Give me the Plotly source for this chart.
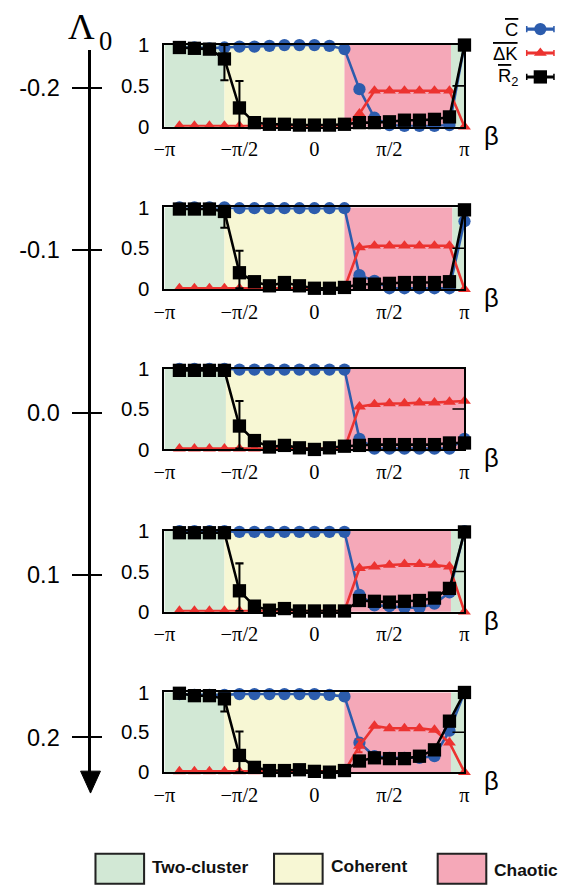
import numpy as np
import plotly.graph_objects as go

# The captured page is shrunk by about 2.2% and the body keeps an 8px margin:
# the figure is laid out in reference pixels through ref -> ref / S - OFF.
S = 0.978
OFF = 8
W, H = 568, 889
K = 1 / S

# ---------------- data ----------------
BETA_FRAC = [-0.9, -0.8, -0.7, -0.6, -0.5, -0.4, -0.3, -0.2, -0.1, 0.0,
             0.1, 0.2, 0.3, 0.4, 0.5, 0.6, 0.7, 0.8, 0.9, 1.0]
LAMBDA0 = [-0.2, -0.1, 0.0, 0.1, 0.2]
LAMBDA0_TEXT = ["-0.2", "-0.1", "0.0", "0.1", "0.2"]

C_BAR = [
    [0.97, 0.97, 0.96, 0.97, 0.98, 0.98, 0.99, 1.0, 1.0, 1.0, 0.99, 0.95, 0.46, 0.11, 0.02, 0.01, 0.01, 0.01, 0.02, 1.0],
    [1.0, 1.0, 1.0, 1.0, 0.99, 0.99, 0.99, 0.99, 0.99, 0.99, 0.99, 0.99, 0.17, 0.10, 0.01, 0.01, 0.01, 0.01, 0.01, 0.83],
    [1.0, 1.0, 1.0, 1.0, 0.99, 0.99, 0.99, 0.99, 0.99, 0.99, 0.99, 0.99, 0.13, 0.01, 0.01, 0.01, 0.01, 0.01, 0.01, 0.13],
    [1.0, 1.0, 1.0, 1.0, 0.99, 0.99, 0.99, 0.99, 0.99, 0.99, 0.99, 0.99, 0.21, 0.08, 0.07, 0.05, 0.05, 0.10, 0.24, 1.0],
    [0.98, 0.97, 0.97, 0.97, 0.98, 0.98, 0.98, 0.98, 0.98, 0.98, 0.97, 0.95, 0.37, 0.20, 0.18, 0.18, 0.18, 0.20, 0.52, 1.0],
]
DK_BAR = [
    [0.01] * 12 + [0.16, 0.44, 0.44, 0.44, 0.44, 0.44, 0.44, 0.0],
    [0.01] * 12 + [0.51, 0.53, 0.53, 0.53, 0.53, 0.53, 0.53, 0.0],
    [0.01] * 12 + [0.53, 0.56, 0.57, 0.57, 0.58, 0.58, 0.59, 0.60],
    [0.01] * 12 + [0.54, 0.56, 0.58, 0.59, 0.59, 0.58, 0.56, 0.0],
    [0.01] * 12 + [0.33, 0.58, 0.55, 0.55, 0.55, 0.53, 0.37, 0.0],
]
DK_ERR = [
    [0] * 20, [0] * 20, [0] * 20, [0] * 20,
    [0] * 12 + [0.08] + [0] * 7,
]
R2_BAR = [
    [0.97, 0.96, 0.95, 0.83, 0.23, 0.05, 0.03, 0.03, 0.02, 0.02, 0.02, 0.03, 0.05, 0.05, 0.06, 0.08, 0.08, 0.09, 0.12, 1.0],
    [0.98, 0.98, 0.98, 0.95, 0.20, 0.09, 0.04, 0.08, 0.04, 0.01, 0.01, 0.02, 0.06, 0.06, 0.07, 0.08, 0.08, 0.08, 0.09, 0.97],
    [0.98, 0.98, 0.98, 0.98, 0.29, 0.11, 0.03, 0.05, 0.02, 0.0, 0.02, 0.04, 0.05, 0.06, 0.06, 0.06, 0.06, 0.06, 0.08, 0.08],
    [0.98, 0.98, 0.98, 0.98, 0.26, 0.07, 0.02, 0.04, 0.01, 0.01, 0.01, 0.01, 0.14, 0.13, 0.12, 0.13, 0.14, 0.17, 0.29, 0.99],
    [0.99, 0.96, 0.96, 0.92, 0.21, 0.06, 0.02, 0.02, 0.03, 0.01, 0.0, 0.02, 0.14, 0.18, 0.17, 0.17, 0.20, 0.28, 0.64, 1.0],
]
R2_ERR_PLUS = [
    [0, 0, 0, 0.17, 0.33] + [0] * 15,
    [0, 0, 0, 0.03, 0.27] + [0] * 15,
    [0, 0, 0, 0.0, 0.31] + [0] * 15,
    [0, 0, 0, 0.0, 0.34] + [0] * 15,
    [0, 0, 0, 0.05, 0.30] + [0] * 15,
]
R2_ERR_MINUS = [
    [0, 0, 0, 0.26, 0.26] + [0] * 15,
    [0, 0, 0, 0.20, 0.19] + [0] * 15,
    [0, 0, 0, 0.0, 0.28] + [0] * 15,
    [0, 0, 0, 0.0, 0.25] + [0] * 15,
    [0, 0, 0, 0.16, 0.21] + [0] * 15,
]
# regime regions in units of pi: (start, end, regime)
REGIONS = [
    [(-1.0, -0.6, "two"), (-0.6, 0.2, "coh"), (0.2, 0.91, "cha"), (0.91, 1.0, "two")],
    [(-1.0, -0.6, "two"), (-0.6, 0.2, "coh"), (0.2, 0.92, "cha"), (0.92, 1.0, "two")],
    [(-1.0, -0.59, "two"), (-0.59, 0.2, "coh"), (0.2, 1.0, "cha")],
    [(-1.0, -0.6, "two"), (-0.6, 0.2, "coh"), (0.2, 0.91, "cha"), (0.91, 1.0, "two")],
    [(-1.0, -0.6, "two"), (-0.6, 0.2, "coh"), (0.2, 0.91, "cha"), (0.91, 1.0, "two")],
]
X_TICKVALS = [-np.pi, -np.pi / 2, 0, np.pi / 2, np.pi]
X_TICKTEXT = ["\u2212\u03c0", "\u2212\u03c0/2", "0", "\u03c0/2", "\u03c0"]
Y_TICKVALS = [0, 0.5, 1]
Y_TICKTEXT = ["0", "0.5", "1"]
LEGEND_NAMES = ["Two-cluster", "Coherent", "Chaotic"]

# ---------------- style ----------------
REGION_COLORS = {"two": "#d2e8d5", "coh": "#f7f7d4", "cha": "#f5a8b8"}
BLUE = "#2c5cad"
RED = "#ec3330"
BLACK = "#000000"
SANS = "Liberation Sans"
SERIF = "Liberation Serif"

PANEL_TOP = [41, 204, 366, 529, 691]
PANEL_BOT = [123, 286, 447, 610, 771]
X_LEFT, X_RIGHT = 162.5, 465


def px(x):
    return (x / S - OFF) / W


def py(y):
    return 1 - (y / S - OFF) / H


def k(v):
    return v * K


def note(text, x, y, size, family=SANS, xanchor="center", color="black"):
    return dict(text=text, x=px(x), y=py(y), xref="paper", yref="paper", showarrow=False,
                xanchor=xanchor, yanchor="middle", font=dict(family=family, size=k(size), color=color))


beta = np.array(BETA_FRAC) * np.pi

fig = go.Figure()
layout = dict(
    width=W, height=H, margin=dict(l=0, r=0, t=0, b=0),
    paper_bgcolor="white", plot_bgcolor="white", showlegend=False,
)
shapes = []
annotations = []

for i in range(5):
    n = i + 1
    sx = "" if n == 1 else str(n)
    layout[f"xaxis{sx}"] = dict(
        domain=[px(X_LEFT), px(X_RIGHT)], anchor=f"y{sx}", range=[-np.pi, np.pi],
        tickvals=X_TICKVALS, ticktext=X_TICKTEXT, ticks="", showgrid=False, zeroline=False,
        showline=True, mirror=True, linecolor="black", linewidth=k(2),
        tickfont=dict(family=SERIF, size=k(20), color="black"), ticklabelstandoff=3,
    )
    layout[f"yaxis{sx}"] = dict(
        domain=[py(PANEL_BOT[i]), py(PANEL_TOP[i])], anchor=f"x{sx}", range=[0, 1],
        tickvals=Y_TICKVALS, ticktext=Y_TICKTEXT, ticks="", showgrid=False, zeroline=False,
        showline=True, mirror=True, linecolor="black", linewidth=k(2),
        tickfont=dict(family=SANS, size=k(20), color="black"), ticklabelstandoff=9,
    )
    for (a, b, kind) in REGIONS[i]:
        shapes.append(dict(type="rect", xref=f"x{sx}", yref=f"y{sx} domain",
                           x0=a * np.pi, x1=b * np.pi, y0=0, y1=1,
                           fillcolor=REGION_COLORS[kind], line=dict(width=0), layer="below"))
    shapes.append(dict(type="line", xref=f"x{sx} domain", yref=f"y{sx}",
                       x0=0.96, x1=1.0, y0=0.5, y1=0.5, line=dict(color="black", width=k(1.5))))
    annotations.append(note("\u03b2", 492, PANEL_BOT[i] + 9, 25))

    fig.add_trace(go.Scatter(
        x=beta, y=C_BAR[i], mode="lines+markers", xaxis=f"x{sx}", yaxis=f"y{sx}",
        line=dict(color=BLUE, width=k(2.5)), marker=dict(symbol="circle", size=k(12), color=BLUE),
        cliponaxis=False, name="C"))
    fig.add_trace(go.Scatter(
        x=beta, y=DK_BAR[i], mode="lines+markers", xaxis=f"x{sx}", yaxis=f"y{sx}",
        line=dict(color=RED, width=k(2.5)), marker=dict(symbol="triangle-up", size=k(11), color=RED),
        error_y=dict(type="data", array=DK_ERR[i], color=RED, thickness=k(2), width=k(3)),
        cliponaxis=False, name="dK"))
    fig.add_trace(go.Scatter(
        x=beta, y=R2_BAR[i], mode="lines+markers", xaxis=f"x{sx}", yaxis=f"y{sx}",
        line=dict(color=BLACK, width=k(2.5)), marker=dict(symbol="square", size=k(13), color=BLACK),
        error_y=dict(type="data", symmetric=False, array=R2_ERR_PLUS[i], arrayminus=R2_ERR_MINUS[i],
                     color=BLACK, thickness=k(2), width=k(4)),
        cliponaxis=False, name="R2"))

# ---------------- Lambda_0 axis ----------------
LAM_TOP, LAM_BOT = 46, 775
lam_lo = -0.2 - (84 - LAM_TOP) / 1630
lam_hi = 0.2 + (LAM_BOT - 736) / 1630
layout["xaxis6"] = dict(domain=[px(88), px(120)], anchor="y6", range=[0, 1], visible=False)
layout["yaxis6"] = dict(
    domain=[py(LAM_BOT), py(LAM_TOP)], anchor="x6", range=[lam_hi, lam_lo],
    tickvals=LAMBDA0, ticktext=LAMBDA0_TEXT, ticks="outside", ticklen=k(15), tickwidth=k(2), tickcolor="black",
    showline=True, linecolor="black", linewidth=k(2.5), showgrid=False, zeroline=False,
    tickfont=dict(family=SANS, size=k(23), color="black"), ticklabelstandoff=8,
)
layout["yaxis7"] = dict(
    domain=[py(LAM_BOT), py(LAM_TOP)], anchor="x6", overlaying="y6", side="left",
    range=[lam_hi, lam_lo], tickvals=LAMBDA0, ticks="inside", ticklen=k(11), tickwidth=k(2), tickcolor="black",
    showticklabels=False, showline=False, showgrid=False, zeroline=False,
)
fig.add_trace(go.Scatter(x=[0] * 5, y=LAMBDA0, xaxis="x6", yaxis="y6", mode="markers",
                         marker=dict(opacity=0), hoverinfo="skip"))
fig.add_trace(go.Scatter(x=[0] * 5, y=LAMBDA0, xaxis="x6", yaxis="y7", mode="markers",
                         marker=dict(opacity=0), hoverinfo="skip"))
shapes.append(dict(type="path", xref="paper", yref="paper",
                   path=f"M {px(78)},{py(770)} L {px(98)},{py(770)} L {px(88)},{py(792)} Z",
                   fillcolor="black", line=dict(color="black", width=1)))
annotations.append(note("\u039b", 79, 22, 36, family=SERIF))
annotations.append(note("0", 103, 37, 26, family=SERIF))

# ---------------- top-right legend ----------------
layout["xaxis8"] = dict(domain=[px(527), px(556)], anchor="y8", range=[0, 1], visible=False)
layout["yaxis8"] = dict(domain=[py(85), py(13)], anchor="x8", range=[2.5, -0.5], visible=False)
leg_specs = [
    ('<span style="text-decoration:overline">C</span>', BLUE, "circle", 12),
    ('<span style="text-decoration:overline">\u0394K</span>', RED, "triangle-up", 11),
    ('<span style="text-decoration:overline">R</span><sub>2</sub>', BLACK, "square", 13),
]
for j, (label, col, sym, size) in enumerate(leg_specs):
    fig.add_trace(go.Scatter(
        x=[0.5], y=[j], xaxis="x8", yaxis="y8", mode="markers",
        marker=dict(symbol=sym, size=k(size), color=col),
        error_x=dict(type="constant", value=0.5, color=col, thickness=k(3), width=k(3)),
        cliponaxis=False, hoverinfo="skip"))
    annotations.append(note(label, 521, 25 + 24 * j, 18, xanchor="right"))

# ---------------- bottom legend ----------------
box_x = [93, 273, 438]
text_x = [148, 328, 493]
text_y = [866, 865, 869]
for name, bx, tx, ty, kind in zip(LEGEND_NAMES, box_x, text_x, text_y, ["two", "coh", "cha"]):
    shapes.append(dict(type="rect", xref="paper", yref="paper",
                       x0=px(bx), x1=px(bx + 49), y0=py(883), y1=py(853),
                       fillcolor=REGION_COLORS[kind], line=dict(color="#222222", width=k(2))))
    annotations.append(note(f"<b>{name}</b>", tx, ty, 17, xanchor="left", color="#111111"))

layout["shapes"] = shapes
layout["annotations"] = annotations
fig.update_layout(**layout)
fig.write_html("out.html")
